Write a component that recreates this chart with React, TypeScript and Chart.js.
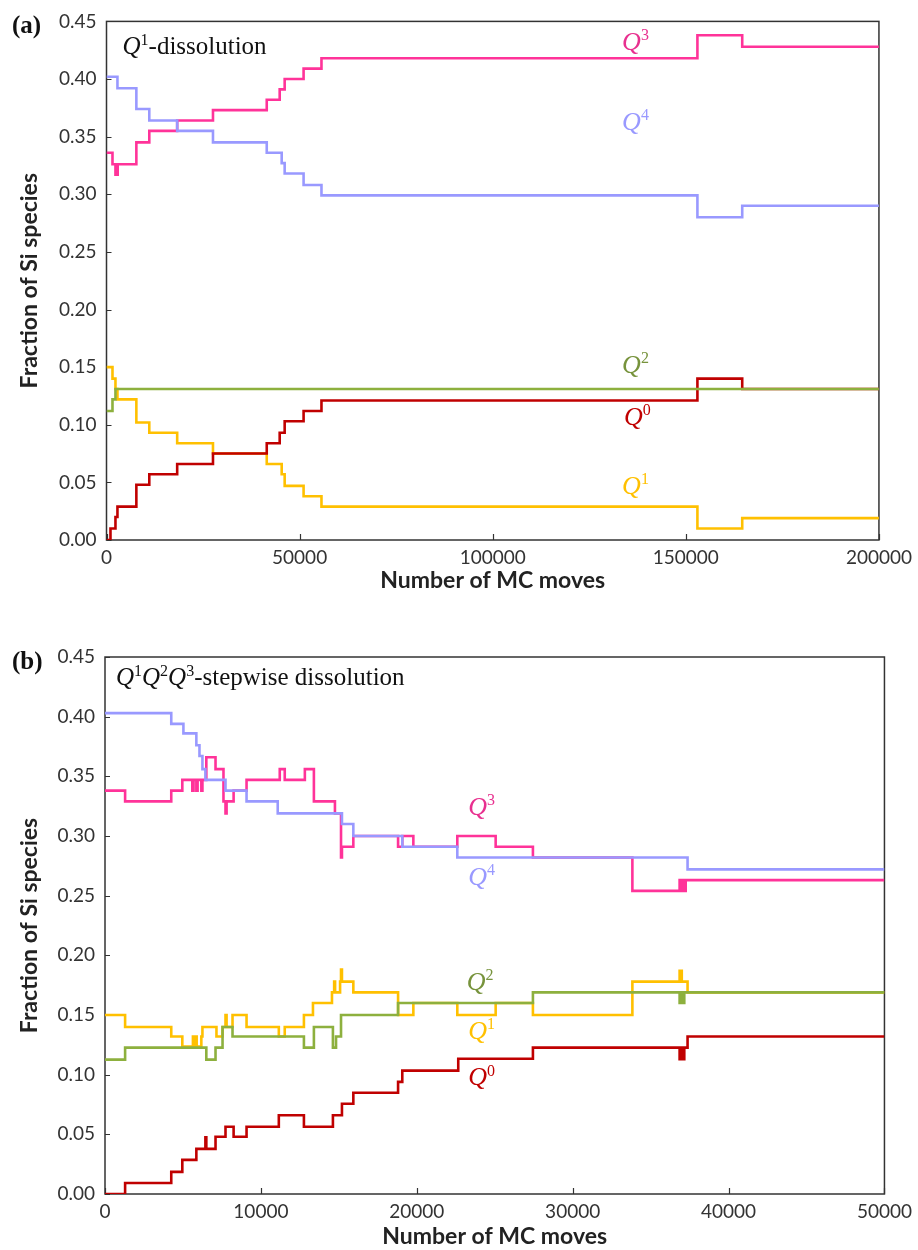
import React, { useEffect, useRef } from "react";
import { Chart, registerables } from "chart.js";
Chart.register(...registerables);

// ---------- Panel (a): Q1-dissolution ----------
const aQ3X = [0, 1550, 2320, 2900, 7730, 11080, 18300, 27570, 41490, 44840, 46130, 51030, 55660, 153000, 164600, 200000];
const aQ3Y = [0.336, 0.326, 0.317, 0.326, 0.345, 0.355, 0.364, 0.373, 0.382, 0.391, 0.4, 0.409, 0.418, 0.438, 0.428, 0.428];
const aQ4X = [0, 2835, 7730, 11080, 18300, 27570, 41490, 45360, 46130, 51030, 55660, 153000, 164600, 200000];
const aQ4Y = [0.402, 0.392, 0.374, 0.364, 0.355, 0.345, 0.336, 0.327, 0.318, 0.308, 0.299, 0.28, 0.29, 0.29];
const aQ2X = [0, 1550, 2320, 200000];
const aQ2Y = [0.112, 0.122, 0.131, 0.131];
const aQ0X = [0, 1030, 2320, 2835, 7730, 11080, 18300, 27570, 41490, 44840, 46130, 51030, 55660, 153000, 164600, 200000];
const aQ0Y = [0, 0.01, 0.02, 0.029, 0.048, 0.057, 0.066, 0.075, 0.084, 0.093, 0.103, 0.112, 0.121, 0.14, 0.131, 0.131];
const aQ1X = [0, 1550, 2320, 2835, 7730, 11080, 18300, 27570, 41490, 45360, 46130, 51030, 55660, 153000, 164600, 200000];
const aQ1Y = [0.15, 0.14, 0.131, 0.122, 0.102, 0.093, 0.084, 0.075, 0.066, 0.057, 0.047, 0.038, 0.029, 0.01, 0.019, 0.019];

// ---------- Panel (b): Q1Q2Q3-stepwise dissolution ----------
const bQ4X = [0, 4250, 5030, 5860, 6060, 6250, 6440, 7730, 9080, 11080, 15200, 15930, 19070, 22600, 37370, 50000];
const bQ4Y = [0.403, 0.394, 0.386, 0.376, 0.367, 0.356, 0.347, 0.338, 0.329, 0.319, 0.31, 0.3, 0.291, 0.282, 0.272, 0.272];
const bQ3X = [0, 1290, 4250, 4960, 5600, 5680, 5860, 5940, 6180, 6250, 6500, 7090, 7600, 7730, 7800, 8250, 9080, 11210, 11530, 12820, 13400, 14750, 15140, 15200, 15930, 18800, 19070, 19780, 22600, 25060, 27450, 33830, 36860, 36950, 37050, 37150, 37250, 37370, 50000];
const bQ3Y = [0.338, 0.329, 0.338, 0.347, 0.338, 0.347, 0.338, 0.347, 0.338, 0.347, 0.366, 0.356, 0.329, 0.319, 0.329, 0.338, 0.347, 0.356, 0.347, 0.356, 0.329, 0.319, 0.282, 0.291, 0.3, 0.291, 0.3, 0.291, 0.3, 0.291, 0.282, 0.254, 0.263, 0.254, 0.263, 0.254, 0.263, 0.263, 0.263];
const bQ1X = [0, 1290, 4250, 4960, 5640, 5700, 5820, 5880, 6180, 6250, 7150, 7540, 7730, 7800, 8180, 9080, 11150, 11530, 12760, 13340, 14560, 14700, 14760, 15080, 15140, 15200, 15930, 18800, 19780, 22600, 25060, 27450, 33830, 36860, 37000, 37370, 50000];
const bQ1Y = [0.15, 0.14, 0.132, 0.1235, 0.132, 0.1235, 0.132, 0.1235, 0.132, 0.14, 0.132, 0.14, 0.15, 0.14, 0.15, 0.14, 0.132, 0.14, 0.15, 0.16, 0.169, 0.178, 0.169, 0.178, 0.188, 0.178, 0.169, 0.15, 0.16, 0.15, 0.16, 0.15, 0.178, 0.187, 0.178, 0.169, 0.169];
const bQ2X = [0, 1290, 6500, 7090, 7540, 8180, 12760, 13400, 14620, 14820, 15140, 18800, 27450, 36860, 36960, 37060, 37160, 50000];
const bQ2Y = [0.1126, 0.1227, 0.1126, 0.1227, 0.14, 0.132, 0.1227, 0.14, 0.1227, 0.132, 0.15, 0.16, 0.169, 0.16, 0.169, 0.16, 0.169, 0.169];
const bQ0X = [0, 1290, 4250, 4960, 5860, 6440, 6500, 7090, 7730, 8250, 9080, 11150, 12760, 14620, 15200, 15930, 18800, 19070, 22660, 27450, 36860, 36960, 37060, 37160, 37370, 50000];
const bQ0Y = [0, 0.0092, 0.0185, 0.0286, 0.0378, 0.0475, 0.0378, 0.048, 0.0563, 0.048, 0.0563, 0.066, 0.0563, 0.066, 0.0756, 0.0849, 0.094, 0.1034, 0.1134, 0.1227, 0.113, 0.1227, 0.113, 0.1227, 0.132, 0.132];

// label anchor positions (data units), order: Q3, Q4, Q2, Q0, Q1
const labelSup = ["3", "4", "2", "0", "1"];
const aLabelX = [133500, 133500, 133500, 134000, 133500];
const aLabelY = [0.425, 0.356, 0.145, 0.0997, 0.04];
const bLabelX = [23300, 23300, 23200, 23300, 23300];
const bLabelY = [0.318, 0.259, 0.171, 0.091, 0.13];

const yTickMax = 0.45;
const yTickStep = 0.05;

const C = {
  q3: "#FF3399",
  q4: "#9999FF",
  q2: "#8DB03E",
  q0: "#C00000",
  q1: "#FFC000",
};
const LABEL_COLORS = ["#E8308F", "#9999FF", "#77933C", "#C00000", "#FFC000"];

const SERIF = "'Liberation Serif', 'Times New Roman', serif";
const SANS = "Lato, 'Open Sans', sans-serif";

function steps(xs: number[], ys: number[]) {
  return xs.map((x, i) => ({ x, y: ys[i] }));
}

function drawQ(ctx: CanvasRenderingContext2D, x: number, y: number, sup: string, color: string, size: number) {
  ctx.fillStyle = color;
  ctx.textBaseline = "alphabetic";
  ctx.textAlign = "left";
  ctx.font = `italic ${size}px ${SERIF}`;
  ctx.fillText("Q", x, y);
  const w = ctx.measureText("Q").width;
  ctx.font = `${Math.round(size * 0.62)}px ${SERIF}`;
  ctx.fillText(sup, x + w, y - size * 0.38);
  return x + w + ctx.measureText(sup).width;
}

type PanelCfg = {
  tag: string;
  title: { sup: string[]; rest: string };
  xMax: number;
  xStep: number;
  series: { label: string; xs: number[]; ys: number[]; color: string; order: number }[];
  labelX: number[];
  labelY: number[];
  height: number;
  padTop: number;
  padRight: number;
  yAxisWidth: number;
  xAxisHeight: number;
  xTitlePad: number;
  titleDx: number;
  titleDy: number;
  tagY: number;
};

function makeDecor(cfg: PanelCfg) {
  return {
    id: "decor",
    beforeDatasetsDraw(chart: any) {
      const { ctx, chartArea: ca, scales } = chart;
      ctx.save();
      ctx.strokeStyle = "#333";
      ctx.lineWidth = 1.5;
      ctx.strokeRect(ca.left, ca.top, ca.right - ca.left, ca.bottom - ca.top);
      ctx.lineWidth = 1.2;
      ctx.beginPath();
      scales.x.ticks.forEach((t: any) => {
        const px = Math.round(scales.x.getPixelForValue(t.value)) + 0.5;
        ctx.moveTo(px, ca.bottom);
        ctx.lineTo(px, ca.bottom - 6);
      });
      scales.y.ticks.forEach((t: any) => {
        const py = Math.round(scales.y.getPixelForValue(t.value)) + 0.5;
        ctx.moveTo(ca.left, py);
        ctx.lineTo(ca.left + 5, py);
      });
      ctx.stroke();
      ctx.restore();
    },
    afterDatasetsDraw(chart: any) {
      const { ctx, chartArea: ca, scales } = chart;
      ctx.save();
      ctx.fillStyle = "#111";
      ctx.font = `bold 25px ${SERIF}`;
      ctx.textAlign = "left";
      ctx.textBaseline = "alphabetic";
      ctx.fillText(cfg.tag, 12, cfg.tagY);
      let x = ca.left + cfg.titleDx;
      const y = ca.top + cfg.titleDy;
      cfg.title.sup.forEach((s) => {
        x = drawQ(ctx, x, y, s, "#111", 25);
      });
      ctx.font = `25px ${SERIF}`;
      ctx.fillStyle = "#111";
      ctx.fillText(cfg.title.rest, x, y);
      cfg.labelX.forEach((lx, i) => {
        const px = scales.x.getPixelForValue(lx);
        const py = scales.y.getPixelForValue(cfg.labelY[i]);
        drawQ(ctx, px, py, labelSup[i], LABEL_COLORS[i], 26);
      });
      ctx.restore();
    },
  };
}

function Panel({ cfg }: { cfg: PanelCfg }) {
  const ref = useRef<HTMLCanvasElement>(null);
  useEffect(() => {
    if (!ref.current) return;
    const chart = new Chart(ref.current, {
      type: "line",
      data: {
        datasets: cfg.series.map((s) => ({
          label: s.label,
          data: steps(s.xs, s.ys),
          borderColor: s.color,
          backgroundColor: s.color,
          borderWidth: 2.6,
          pointRadius: 0,
          stepped: "before",
          fill: false,
          order: s.order,
        })),
      },
      options: {
        animation: false,
        responsive: false,
        events: [],
        layout: { padding: { left: 0, right: cfg.padRight, top: cfg.padTop, bottom: 0 } },
        plugins: { legend: { display: false }, tooltip: { enabled: false } },
        scales: {
          x: {
            type: "linear",
            min: 0,
            max: cfg.xMax,
            ticks: {
              stepSize: cfg.xStep,
              callback: (v: any) => String(v),
              font: { family: SANS, size: 19 },
              color: "#333",
              padding: 6,
              maxRotation: 0,
              autoSkip: false,
            },
            grid: { display: false, drawTicks: false },
            border: { display: false },
            title: {
              display: true,
              text: "Number of MC moves",
              font: { family: SANS, size: 23, weight: "bold" },
              color: "#222",
              padding: { top: 0, bottom: cfg.xTitlePad },
            },
            afterFit: (s: any) => {
              s.height = cfg.xAxisHeight;
            },
          },
          y: {
            type: "linear",
            min: 0,
            max: yTickMax,
            ticks: {
              stepSize: yTickStep,
              callback: (v: any) => Number(v).toFixed(2),
              font: { family: SANS, size: 19 },
              color: "#333",
              padding: 10,
            },
            grid: { display: false, drawTicks: false },
            border: { display: false },
            title: {
              display: true,
              text: "Fraction of Si species",
              font: { family: SANS, size: 23, weight: "bold" },
              color: "#222",
              padding: { top: 16, bottom: 0 },
            },
            afterFit: (s: any) => {
              s.width = cfg.yAxisWidth;
            },
          },
        },
      },
      plugins: [makeDecor(cfg)],
    } as any);
    return () => chart.destroy();
  }, [cfg]);
  return <canvas ref={ref} width={918} height={cfg.height} style={{ display: "block" }} />;
}

const panelA: PanelCfg = {
  tag: "(a)",
  title: { sup: ["1"], rest: "-dissolution" },
  xMax: 200000,
  xStep: 50000,
  series: [
    { label: "Q2", xs: aQ2X, ys: aQ2Y, color: C.q2, order: 0 },
    { label: "Q4", xs: aQ4X, ys: aQ4Y, color: C.q4, order: 1 },
    { label: "Q0", xs: aQ0X, ys: aQ0Y, color: C.q0, order: 2 },
    { label: "Q3", xs: aQ3X, ys: aQ3Y, color: C.q3, order: 3 },
    { label: "Q1", xs: aQ1X, ys: aQ1Y, color: C.q1, order: 4 },
  ],
  labelX: aLabelX,
  labelY: aLabelY,
  height: 610,
  padTop: 21,
  padRight: 36,
  yAxisWidth: 106.5,
  xAxisHeight: 70,
  xTitlePad: 16,
  titleDx: 16,
  titleDy: 33,
  tagY: 33,
};

const panelB: PanelCfg = {
  tag: "(b)",
  title: { sup: ["1", "2", "3"], rest: "-stepwise dissolution" },
  xMax: 50000,
  xStep: 10000,
  series: [
    { label: "Q2", xs: bQ2X, ys: bQ2Y, color: C.q2, order: 0 },
    { label: "Q4", xs: bQ4X, ys: bQ4Y, color: C.q4, order: 1 },
    { label: "Q0", xs: bQ0X, ys: bQ0Y, color: C.q0, order: 2 },
    { label: "Q3", xs: bQ3X, ys: bQ3Y, color: C.q3, order: 3 },
    { label: "Q1", xs: bQ1X, ys: bQ1Y, color: C.q1, order: 4 },
  ],
  labelX: bLabelX,
  labelY: bLabelY,
  height: 630,
  padTop: 37,
  padRight: 33,
  yAxisWidth: 105,
  xAxisHeight: 56,
  xTitlePad: 0,
  titleDx: 11,
  titleDy: 28,
  tagY: 49,
};

export default function App() {
  return (
    <div style={{ position: "absolute", left: 0, top: 0, width: 918, height: 1250, background: "#fff" }}>
      <div style={{ position: "absolute", left: 0, top: 0 }}>
        <Panel cfg={panelA} />
      </div>
      <div style={{ position: "absolute", left: 0, top: 620 }}>
        <Panel cfg={panelB} />
      </div>
    </div>
  );
}
